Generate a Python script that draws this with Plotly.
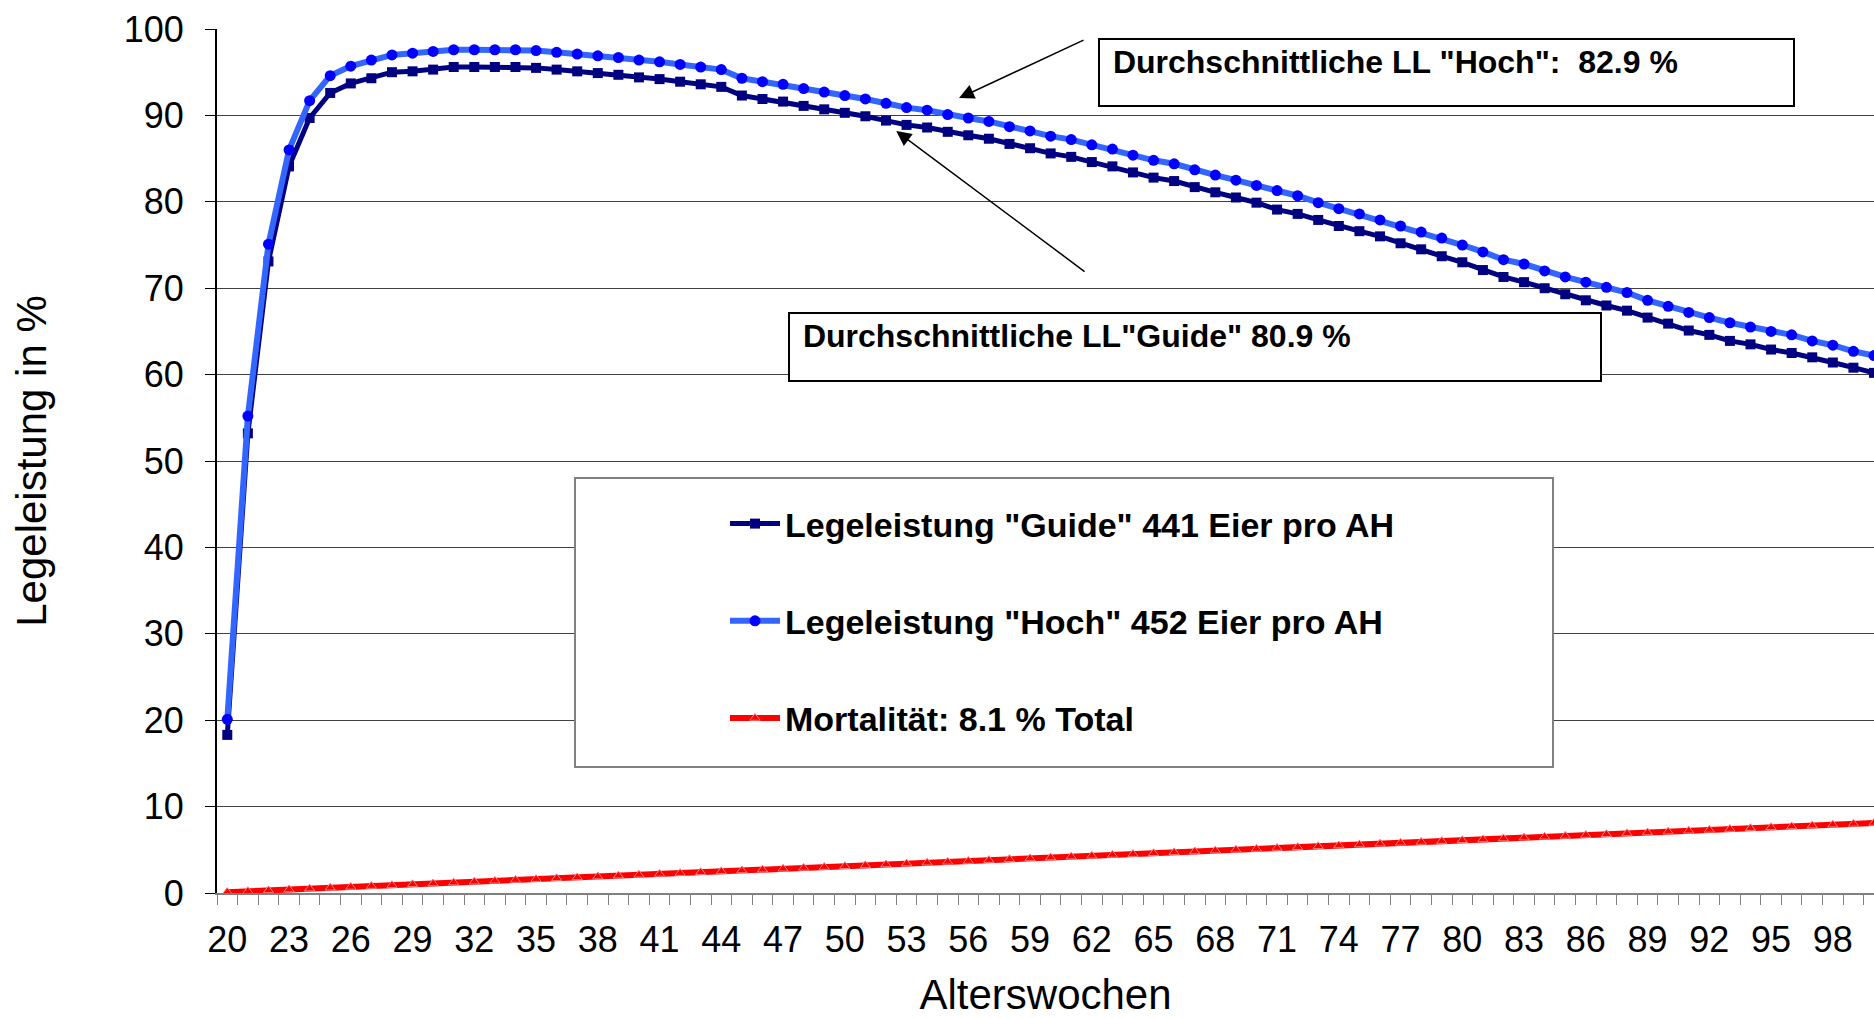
import plotly.graph_objects as go

weeks = [20, 21, 22, 23, 24, 25, 26, 27, 28, 29, 30, 31, 32, 33, 34, 35, 36, 37, 38, 39,
         40, 41, 42, 43, 44, 45, 46, 47, 48, 49, 50, 51, 52, 53, 54, 55, 56, 57, 58, 59,
         60, 61, 62, 63, 64, 65, 66, 67, 68, 69, 70, 71, 72, 73, 74, 75, 76, 77, 78, 79,
         80, 81, 82, 83, 84, 85, 86, 87, 88, 89, 90, 91, 92, 93, 94, 95, 96, 97, 98, 99, 100]

guide = [18.3, 53.2, 73.1, 84.1, 89.7, 92.6, 93.7, 94.3, 95.0, 95.1,
         95.3, 95.6, 95.6, 95.6, 95.6, 95.5, 95.3, 95.1, 94.9, 94.7,
         94.4, 94.2, 93.9, 93.6, 93.3, 92.3, 91.9, 91.6, 91.1, 90.7,
         90.3, 89.9, 89.4, 88.9, 88.6, 88.1, 87.7, 87.3, 86.7, 86.2,
         85.6, 85.2, 84.6, 84.1, 83.4, 82.8, 82.4, 81.7, 81.1, 80.5,
         79.9, 79.1, 78.6, 77.9, 77.2, 76.6, 76.0, 75.2, 74.5, 73.7,
         73.0, 72.1, 71.3, 70.7, 70.0, 69.3, 68.6, 68.0, 67.4, 66.6,
         65.9, 65.1, 64.6, 63.9, 63.5, 62.9, 62.5, 62.0, 61.4, 60.8, 60.2]

hoch = [20.1, 55.2, 75.1, 86.0, 91.7, 94.6, 95.7, 96.4, 97.0, 97.2,
        97.4, 97.6, 97.6, 97.6, 97.6, 97.5, 97.3, 97.1, 96.9, 96.7,
        96.4, 96.2, 95.9, 95.6, 95.3, 94.3, 93.9, 93.6, 93.1, 92.7,
        92.3, 91.9, 91.4, 90.9, 90.6, 90.1, 89.7, 89.3, 88.7, 88.2,
        87.6, 87.2, 86.6, 86.1, 85.4, 84.8, 84.4, 83.7, 83.1, 82.5,
        81.9, 81.3, 80.7, 79.9, 79.2, 78.6, 77.9, 77.2, 76.5, 75.8,
        75.0, 74.2, 73.3, 72.8, 72.0, 71.3, 70.7, 70.1, 69.5, 68.6,
        67.9, 67.2, 66.6, 66.0, 65.5, 65.0, 64.6, 63.9, 63.4, 62.7, 62.2]

mortality = [0.1, 0.2, 0.3, 0.4, 0.5, 0.6, 0.7, 0.8, 0.9, 1.0,
             1.1, 1.2, 1.3, 1.4, 1.5, 1.6, 1.7, 1.8, 1.9, 2.0,
             2.1, 2.2, 2.3, 2.4, 2.5, 2.6, 2.7, 2.8, 2.9, 3.0,
             3.1, 3.2, 3.3, 3.4, 3.5, 3.6, 3.7, 3.8, 3.9, 4.0,
             4.1, 4.2, 4.3, 4.4, 4.5, 4.6, 4.7, 4.8, 4.9, 5.0,
             5.1, 5.2, 5.3, 5.4, 5.5, 5.6, 5.7, 5.8, 5.9, 6.0,
             6.1, 6.2, 6.3, 6.4, 6.5, 6.6, 6.7, 6.8, 6.9, 7.0,
             7.1, 7.2, 7.3, 7.4, 7.5, 7.6, 7.7, 7.8, 7.9, 8.0, 8.1]

x_tick_labels = [20, 23, 26, 29, 32, 35, 38, 41, 44, 47, 50, 53, 56, 59, 62,
                 65, 68, 71, 74, 77, 80, 83, 86, 89, 92, 95, 98]

series_names = ['Legeleistung "Guide" 441 Eier pro AH',
                'Legeleistung "Hoch" 452 Eier pro AH',
                'Mortalität: 8.1 % Total']
note_hoch = 'Durchschnittliche LL "Hoch":  82.9 %'
note_guide = 'Durchschnittliche LL"Guide" 80.9 %'

FONT = "Arial, 'Liberation Sans', sans-serif"

fig = go.Figure()
fig.add_trace(go.Scatter(
    x=weeks, y=guide, name=series_names[0], mode="lines+markers", legendgroup="g1",
    line=dict(color="#000080", width=5),
    marker=dict(symbol="square", size=10, color="#000080")))
fig.add_trace(go.Scatter(
    x=weeks, y=hoch, name=series_names[1], mode="lines+markers", legendgroup="g2",
    line=dict(color="#3366FF", width=6),
    marker=dict(symbol="circle", size=11, color="#0000FF")))
fig.add_trace(go.Scatter(
    x=weeks, y=mortality, name=series_names[2], mode="lines+markers", legendgroup="g3",
    line=dict(color="#FF0000", width=6),
    marker=dict(symbol="triangle-up", size=9, color="#FF0000",
                line=dict(color="#FF8080", width=1))))

L, R, T, B = 217, 0, 29, 125
W, H = 1874, 1018
pw, ph = W - L - R, H - T - B


def px(xp):
    return (xp - L) / pw


def py(yp):
    return (H - B - yp) / ph


fig.update_layout(
    width=W, height=H,
    margin=dict(l=L, r=R, t=T, b=B, autoexpand=False),
    plot_bgcolor="white", paper_bgcolor="white",
    font=dict(family=FONT, color="black"),
    showlegend=True,
    legend=dict(
        x=px(725), y=py(495), xanchor="left", yanchor="top",
        bgcolor="rgba(0,0,0,0)", borderwidth=0,
        font=dict(family=FONT, size=34, color="black", weight="bold"),
        tracegroupgap=50, traceorder="grouped", itemwidth=50,
    ),
    xaxis=dict(
        range=[19.5, 100.0],
        tickmode="array", tickvals=x_tick_labels, ticktext=[str(v) for v in x_tick_labels],
        ticks="", showgrid=False, zeroline=False,
        showline=True, linecolor="#808080", linewidth=2,
        tickfont=dict(family=FONT, size=36, color="black"),
        ticklabelstandoff=14,
        minor=dict(ticks="outside", ticklen=10, tickcolor="#808080", tickwidth=1,
                   dtick=1, tick0=19.5, showgrid=False),
        title=dict(text="Alterswochen", font=dict(family=FONT, size=42, color="black"), standoff=29),
    ),
    yaxis=dict(
        range=[0, 100], dtick=10, tick0=0,
        showgrid=True, gridcolor="#404040", gridwidth=1,
        zeroline=False, showline=True, linecolor="black", linewidth=2,
        ticks="outside", ticklen=10, tickcolor="black",
        tickfont=dict(family=FONT, size=36, color="black"),
        ticklabelstandoff=14,
        title=dict(text="Legeleistung in %", font=dict(family=FONT, size=42, color="black"), standoff=64),
    ),
)

# legend frame
fig.add_shape(type="rect", xref="paper", yref="paper",
              x0=px(575), x1=px(1553), y0=py(767), y1=py(478),
              line=dict(color="#808080", width=2), fillcolor="white", layer="above")

# annotation text boxes
fig.add_annotation(xref="paper", yref="paper", x=px(1098), y=py(38), xanchor="left", yanchor="top",
                   text="&nbsp;" + note_hoch, showarrow=False, align="left", valign="top",
                   width=685, height=57, borderpad=4, bordercolor="black", borderwidth=2,
                   bgcolor="white", font=dict(family=FONT, size=32, color="black", weight="bold"))
fig.add_annotation(xref="paper", yref="paper", x=px(788), y=py(312), xanchor="left", yanchor="top",
                   text="&nbsp;" + note_guide, showarrow=False, align="left", valign="top",
                   width=802, height=58, borderpad=4, bordercolor="black", borderwidth=2,
                   bgcolor="white", font=dict(family=FONT, size=32, color="black", weight="bold"))

# arrows (data coordinates)
fig.add_annotation(xref="x", yref="y", axref="x", ayref="y",
                   x=55.55, y=92.0, ax=61.67, ay=98.8, text="", showarrow=True,
                   arrowhead=2, arrowsize=2, arrowwidth=1.5, arrowcolor="black")
fig.add_annotation(xref="x", yref="y", axref="x", ayref="y",
                   x=52.5, y=88.2, ax=61.72, ay=71.8, text="", showarrow=True,
                   arrowhead=2, arrowsize=2, arrowwidth=1.5, arrowcolor="black")

fig.write_html("out.html", config={"displayModeBar": False},
               post_script="document.body.style.margin='0';document.body.style.overflow='hidden';")
